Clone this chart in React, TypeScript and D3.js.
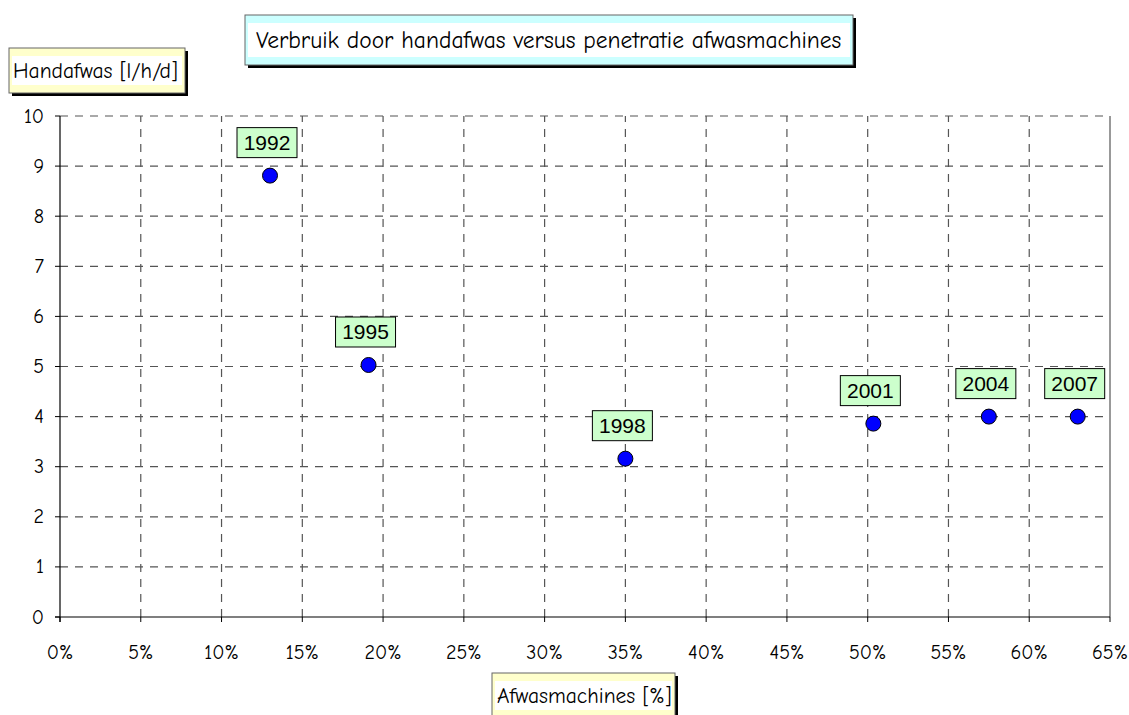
import React from "react";
import * as d3 from "d3";

const years = ["1992", "1995", "1998", "2001", "2004", "2007"];
const penetration = [13.0, 19.1, 35.0, 50.35, 57.5, 63.0];
const handwash = [8.81, 5.03, 3.16, 3.86, 4.0, 4.0];
const xTicks = [0, 5, 10, 15, 20, 25, 30, 35, 40, 45, 50, 55, 60, 65];
const yTicks = [0, 1, 2, 3, 4, 5, 6, 7, 8, 9, 10];
const title = "Verbruik door handafwas versus penetratie afwasmachines";
const yTitle = "Handafwas [l/h/d]";
const xTitle = "Afwasmachines [%]";

const W = 1129;
const H = 715;
const comic = "'Comic Sans MS', 'Comic Neue', 'Noto Sans', 'DejaVu Sans', sans-serif";
const arial = "'Liberation Sans', Arial, sans-serif";

function Box({ x, y, w, h, band, text, size, tx }: any) {
  return (
    <g>
      <rect x={x + 3} y={y + 3} width={w} height={h} fill="#000" />
      <rect x={x} y={y} width={w} height={h} fill={band} stroke="#666" strokeWidth={1} />
      <rect x={x + 3} y={y + 8} width={w - 6} height={h - 16} fill="#fff" />
      <text x={tx} y={y + h / 2} dominantBaseline="central" fontFamily={comic} fontSize={size} fill="#000">
        {text}
      </text>
    </g>
  );
}

export default function App() {
  const x = d3.scaleLinear().domain([0, 65]).range([60, 1110]);
  const y = d3.scaleLinear().domain([0, 10]).range([617, 116]);
  return (
    <svg width={W} height={H} style={{ position: "absolute", left: 0, top: 0, background: "#fff" }}>
      <rect x={0} y={0} width={W} height={H} fill="#fff" />
      {yTicks.filter((t) => t > 0).map((t) => (
        <line key={"gy" + t} x1={x(0)} x2={x(65)} y1={y(t)} y2={y(t)} stroke="#555" strokeWidth={1.2} strokeDasharray="8,7" />
      ))}
      {xTicks.filter((t) => t > 0 && t < 65).map((t) => (
        <line key={"gx" + t} x1={x(t)} x2={x(t)} y1={y(0)} y2={y(10)} stroke="#555" strokeWidth={1.2} strokeDasharray="8,7" />
      ))}
      <line x1={x(65)} x2={x(65)} y1={y(10)} y2={y(0)} stroke="#999" strokeWidth={2} />
      <line x1={x(0)} x2={x(0)} y1={y(10)} y2={y(0) + 5} stroke="#000" strokeWidth={1.2} />
      <line x1={x(0) - 5} x2={x(65)} y1={y(0)} y2={y(0)} stroke="#000" strokeWidth={1.2} />
      {yTicks.map((t) => (
        <g key={"ty" + t}>
          <line x1={x(0) - 5} x2={x(0)} y1={y(t)} y2={y(t)} stroke="#000" />
          <text x={44} y={y(t)} textAnchor="end" dominantBaseline="central" fontFamily={comic} fontSize={20}>
            {t}
          </text>
        </g>
      ))}
      {xTicks.map((t) => (
        <g key={"tx" + t}>
          <line x1={x(t)} x2={x(t)} y1={y(0)} y2={y(0) + 5} stroke="#000" />
          <text x={x(t)} y={652} textAnchor="middle" dominantBaseline="central" fontFamily={comic} fontSize={20}>
            {t + "%"}
          </text>
        </g>
      ))}
      {penetration.map((p, i) => (
        <circle key={"c" + i} cx={x(p)} cy={y(handwash[i])} r={7.5} fill="#0000ff" stroke="#000" strokeWidth={1} />
      ))}
      {penetration.map((p, i) => {
        const cx = x(p) - 3;
        const bottom = y(handwash[i]) - 18;
        return (
          <g key={"l" + i}>
            <rect x={cx - 30} y={bottom - 30} width={60} height={30} fill="#ccffcc" stroke="#000" strokeWidth={1} />
            <text x={cx} y={bottom - 15} textAnchor="middle" dominantBaseline="central" fontFamily={arial} fontSize={21}>
              {years[i]}
            </text>
          </g>
        );
      })}
      <Box x={245} y={15} w={608} h={50} band="#ccffff" text={title} size={23.5} tx={256} />
      <Box x={9} y={48} w={176} h={45} band="#ffffcc" text={yTitle} size={21.5} tx={13} />
      <Box x={492} y={673} w={183} h={45} band="#ffffcc" text={xTitle} size={21.5} tx={497} />
    </svg>
  );
}
